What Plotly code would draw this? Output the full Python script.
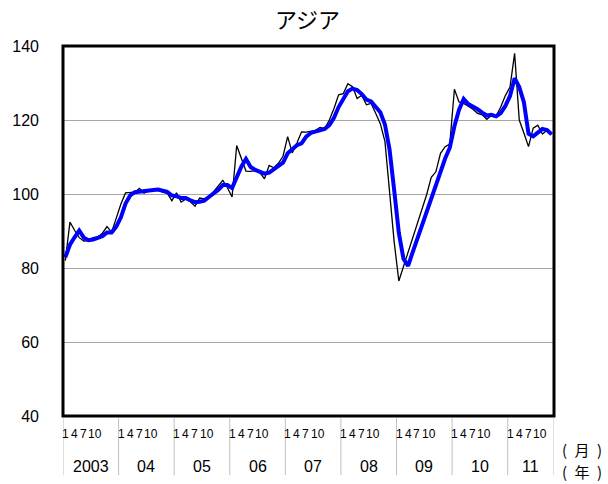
import plotly.graph_objects as go

# ---- data (monthly, Jan 2003 - Oct 2011) ----
title_text = "アジア"
year_labels = ["2003", "04", "05", "06", "07", "08", "09", "10", "11"]
month_labels = ["1", "4", "7", "10"]
y_ticks = [40, 60, 80, 100, 120, 140]

actual = [
    82.0, 92.4, 90.2, 88.2, 87.3, 87.4, 88.2, 88.4, 89.4, 91.2, 89.7, 93.6,
    97.3, 100.3, 100.4, 100.5, 101.5, 100.2, 100.9, 101.0, 101.4, 100.5, 100.2, 98.2,
    100.3, 97.8, 98.6, 97.9, 96.7, 98.9, 98.7, 99.3, 100.6, 102.0, 103.7, 101.7,
    99.2, 113.1, 109.6, 106.2, 106.1, 106.3, 105.8, 104.1, 107.7, 107.1, 108.3, 110.2,
    115.5, 111.1, 113.8, 116.8, 116.7, 116.9, 117.2, 118.0, 117.7, 120.0, 123.1, 126.8,
    127.1, 129.8, 129.0, 125.8, 126.7, 124.1, 124.5, 121.8, 119.0, 114.2, 100.5, 87.0,
    76.5, 80.4, 84.3, 88.1, 91.9, 95.7, 99.8, 104.5, 106.0, 111.0, 112.8, 113.5,
    128.3, 124.9, 124.5, 123.7, 122.9, 121.8, 121.4, 120.2, 121.3, 121.1, 123.5, 126.6,
    128.9, 138.0, 120.0, 116.5, 112.8, 117.8, 118.6, 116.2, 117.2, 116.2,
]
smoothed = [
    82.9, 86.3, 88.3, 90.1, 88.2, 87.5, 87.7, 88.1, 88.6, 89.6, 89.6, 91.2,
    93.7, 97.4, 99.6, 100.5, 100.7, 100.9, 100.9, 101.1, 101.2, 100.9, 100.6, 99.6,
    99.4, 98.9, 98.9, 98.3, 97.8, 97.9, 98.2, 99.2, 100.0, 101.1, 102.4, 102.4,
    101.6, 104.6, 107.4, 109.5, 107.3, 106.5, 106.0, 105.5, 105.8, 106.6, 107.6, 108.5,
    111.0, 112.0, 113.2, 113.7, 115.5, 116.5, 116.8, 117.3, 117.6, 118.6, 120.6, 123.5,
    125.9, 127.8, 128.5, 128.1, 127.0, 125.5, 125.0, 123.7, 122.1, 118.8, 112.0, 101.0,
    89.5, 82.5, 80.6, 84.3, 87.9, 91.5, 95.2, 98.8, 102.6, 106.2, 109.6, 112.5,
    118.3, 122.8, 125.7, 124.3, 123.7, 122.9, 122.0, 121.2, 121.4, 121.0, 121.9, 123.8,
    126.5, 131.3, 128.9, 124.8, 116.3, 115.6, 116.6, 117.6, 117.3, 116.1,
]

n = len(actual)
x = list(range(n))
FONT = "Liberation Sans, Arial, sans-serif"
CJK = "Noto Sans CJK JP, sans-serif"

fig = go.Figure()
fig.add_trace(go.Scatter(x=x, y=actual, mode="lines",
                         line=dict(color="black", width=1.3), hoverinfo="skip"))
fig.add_trace(go.Scatter(x=x, y=smoothed, mode="lines",
                         line=dict(color="#0000FF", width=4), hoverinfo="skip"))

shapes = []
annotations = []

# year boundaries
starts = [-0.5 + 12 * i for i in range(len(year_labels))]
ends = starts[1:] + [n - 0.5]
for s in starts + [n - 0.5]:
    shapes.append(dict(type="line", xref="x", yref="paper", x0=s, x1=s,
                       y0=-0.006, y1=-0.16, line=dict(color="#c0c0c0", width=1)))

px_per_month = 495.0 / n
month_offsets_px = [2.6, 11.6, 20.6, 32.6]
for s, e, yl in zip(starts, ends, year_labels):
    for lab, off in zip(month_labels, month_offsets_px):
        annotations.append(dict(x=s + off / px_per_month, xref="x", y=0, yref="paper",
                                yshift=-18, text=lab, showarrow=False,
                                xanchor="center", yanchor="middle",
                                font=dict(family=FONT, size=12, color="black")))
    annotations.append(dict(x=(s + e) / 2, xref="x", y=0, yref="paper", yshift=-50,
                            text=yl, showarrow=False, xanchor="center", yanchor="middle",
                            font=dict(family=FONT, size=16, color="black")))

annotations.append(dict(x=1.057, xref="paper", y=0, yref="paper", yshift=-33,
                        text="(\u2002月\u2002)", showarrow=False, xanchor="center",
                        yanchor="middle", font=dict(family=CJK, size=15, color="black")))
annotations.append(dict(x=1.057, xref="paper", y=0, yref="paper", yshift=-55,
                        text="(\u2002年\u2002)", showarrow=False, xanchor="center",
                        yanchor="middle", font=dict(family=CJK, size=15, color="black")))
annotations.append(dict(x=0.497, xref="paper", y=1, yref="paper", yshift=28,
                        text=title_text, showarrow=False, xanchor="center", yanchor="middle",
                        font=dict(family=CJK, size=22, color="black")))

# plot border
shapes.append(dict(type="rect", xref="paper", yref="paper", x0=0, x1=1, y0=0, y1=1,
                   line=dict(color="black", width=3), layer="above"))

fig.update_layout(
    width=608, height=484,
    margin=dict(l=59, r=54, t=46, b=68),
    paper_bgcolor="white", plot_bgcolor="white",
    showlegend=False,
    shapes=shapes, annotations=annotations,
    xaxis=dict(range=[-0.5, n - 0.5], showgrid=False, zeroline=False,
               showticklabels=False, ticks="", showline=False, fixedrange=True),
    yaxis=dict(range=[40, 140], tickvals=y_ticks, showgrid=True, gridcolor="#a6a6a6",
               gridwidth=1, zeroline=False, showline=False, ticks="",
               ticklabelstandoff=23,
               tickfont=dict(family=FONT, size=16, color="black"), fixedrange=True),
)

fig.write_html("out.html", config={"displayModeBar": False},
               post_script="document.body.style.margin='0';document.body.style.padding='0';")
